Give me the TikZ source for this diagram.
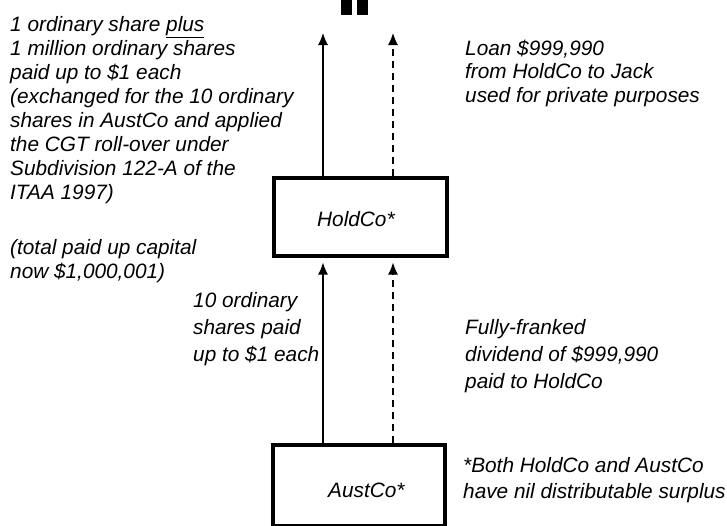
\documentclass[tikz,border=0pt]{standalone}
\usepackage{fontspec}
\setmainfont{Liberation Sans}
\usetikzlibrary{arrows.meta}
\begin{document}
\begin{tikzpicture}[x=1pt,y=-1pt,
  txt/.style={font=\fontsize{20.8}{24}\selectfont\itshape, inner sep=0pt, anchor=base west},
  boxnode/.style={draw, line width=3.2pt, inner sep=0pt},
  arr/.style={line width=1.2pt, -{Latex[length=12pt,width=10pt]}},
  darr/.style={arr, dash pattern=on 7pt off 5pt}]
\useasboundingbox (0,0) rectangle (727,525);
\clip (0,0) rectangle (727,525);

% partial figure at top
\fill (341,0) rectangle (352,15);
\fill (357,0) rectangle (368,15);

% boxes
\node[boxnode, minimum width=173pt, minimum height=78pt] (hold) at (360.5,217) {};
\node[txt] (holdlbl) at (317,226.5) {HoldCo*};
\node[boxnode, minimum width=172pt, minimum height=81pt] (aust) at (359,485.5) {};
\node[txt] (austlbl) at (328,497) {AustCo*};

% arrow coordinates
\coordinate (tipS) at (323,33);
\coordinate (tipD) at (393,33);

\draw[arr] (hold.north -| tipS) -- (tipS);
\draw[darr] (hold.north -| tipD) -- (tipD);
\draw[arr, shorten >=5pt] (aust.north -| tipS) -- (hold.south -| tipS);
\draw[darr, shorten >=5pt] (aust.north -| tipD) -- (hold.south -| tipD);

% left text block
\node[txt] (l1) at (10,31) {1 ordinary share \underline{plus}};
\node[txt] (l2) at (10,55) {1 million ordinary shares};
\node[txt] (l3) at (10,79) {paid up to \$1 each};
\node[txt] (l4) at (10,103) {(exchanged for the 10 ordinary};
\node[txt] (l5) at (10,127) {shares in AustCo and applied};
\node[txt] (l6) at (10,151) {the CGT roll-over under};
\node[txt] (l7) at (10,175) {Subdivision 122-A of the};
\node[txt] (l8) at (10,199) {ITAA 1997)};
\node[txt] (l9) at (10,254) {(total paid up capital};
\node[txt] (l10) at (10,278) {now \$1,000,001)};

% loan text
\node[txt] (r1) at (465,55) {Loan \$999,990};
\node[txt] (r2) at (465,78.5) {from HoldCo to Jack};
\node[txt] (r3) at (465,102) {used for private purposes};

% 10 ordinary shares
\node[txt] (m1) at (193,307) {10 ordinary};
\node[txt] (m2) at (193,334) {shares paid};
\node[txt] (m3) at (193,361) {up to \$1 each};

% dividend
\node[txt] (d1) at (465,334) {Fully-franked};
\node[txt] (d2) at (465,361) {dividend of \$999,990};
\node[txt] (d3) at (465,388) {paid to HoldCo};

% note
\node[txt] (n1) at (463,472) {*Both HoldCo and AustCo};
\node[txt] (n2) at (463,498) {have nil distributable surplus};
\end{tikzpicture}
\end{document}
